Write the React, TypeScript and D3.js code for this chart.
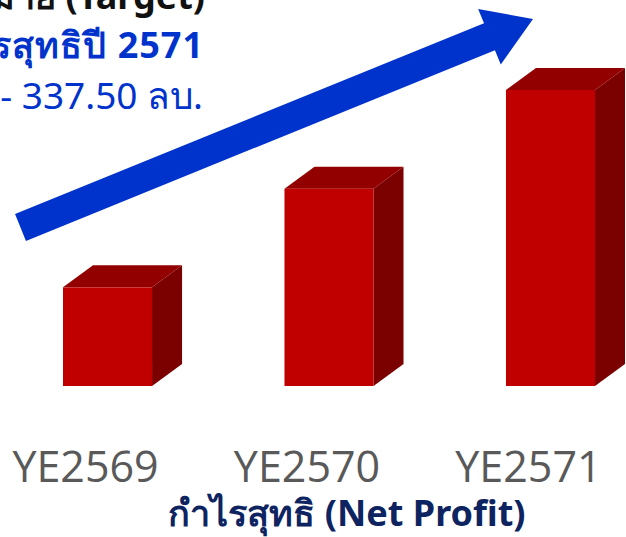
import React from "react";
import * as d3 from "d3";

const years = ["YE2569", "YE2570", "YE2571"];
const netProfit = [112.5, 225, 337.5];
const titleLines = ["เป้าหมาย (Target)", "กำไรสุทธิปี 2571", "300 - 337.50 ลบ."];
const axisTitle = "กำไรสุทธิ (Net Profit)";

const W = 626;
const H = 537;
const depthX = 30;
const depthY = 22;

export default function App() {
  const x = d3.scaleBand<string>().domain(years).range([63, 595]).paddingInner(0.598).paddingOuter(0);
  const y = d3.scaleLinear().domain([0, 337.5]).range([386, 90]);
  const bw = x.bandwidth();

  // trend arrow, from below the first bar up past the last one
  const tail: [number, number] = [20.5, 227.5];
  const tip: [number, number] = [533, 19];
  const len = Math.hypot(tip[0] - tail[0], tip[1] - tail[1]);
  const u = [(tip[0] - tail[0]) / len, (tip[1] - tail[1]) / len];
  const n = [-u[1], u[0]];
  const shaftW = 14.5, headW = 30, headL = 47;
  const pt = (base: [number, number], along: number, side: number) =>
    [base[0] + u[0] * along + n[0] * side, base[1] + u[1] * along + n[1] * side];
  const arrow = d3.line()([
    pt(tail, 0, -shaftW),
    pt(tip, -headL, -shaftW),
    pt(tip, -headL, -headW),
    pt(tip, 0, 0),
    pt(tip, -headL, headW),
    pt(tip, -headL, shaftW),
    pt(tail, 0, shaftW),
  ] as [number, number][]) + "Z";

  return (
    <svg width={W} height={H} style={{ position: "absolute", left: 0, top: 0, background: "#fff" }}>
      {years.map((yr, i) => {
        const x0 = x(yr)!;
        const x1 = x0 + bw;
        const yt = y(netProfit[i]);
        const yb = y(0);
        const top = d3.line()([[x0, yt], [x0 + depthX, yt - depthY], [x1 + depthX, yt - depthY], [x1, yt]]) + "Z";
        const side = d3.line()([[x1, yt], [x1 + depthX, yt - depthY], [x1 + depthX, yb - depthY], [x1, yb]]) + "Z";
        return (
          <g key={yr}>
            <path d={side} fill="#7b0000" />
            <path d={top} fill="#920000" />
            <rect x={x0} y={yt} width={bw} height={yb - yt} fill="#c00000" />
            <text
              x={x0 + bw / 2 - 22}
              y={482}
              textAnchor="middle"
              fontFamily="'Open Sans', sans-serif"
              fontSize={43}
              fill="#595959"
            >
              {yr}
            </text>
          </g>
        );
      })}
      <path d={arrow} fill="#0033cc" />
      <g fontFamily="'Noto Sans', sans-serif" textAnchor="end">
        <text x={205} y={9} fontSize={36} fontWeight="bold" fill="#111">{titleLines[0]}</text>
        <text x={204} y={58} fontSize={36} fontWeight="bold" letterSpacing={1} fill="#0033cc">{titleLines[1]}</text>
        <text x={203} y={109} fontSize={37} fill="#0033cc">{titleLines[2]}</text>
      </g>
      <text
        x={347}
        y={526}
        textAnchor="middle"
        fontFamily="'Noto Sans', sans-serif"
        fontSize={36}
        fontWeight="bold"
        fill="#0d2461"
      >
        {axisTitle}
      </text>
    </svg>
  );
}
